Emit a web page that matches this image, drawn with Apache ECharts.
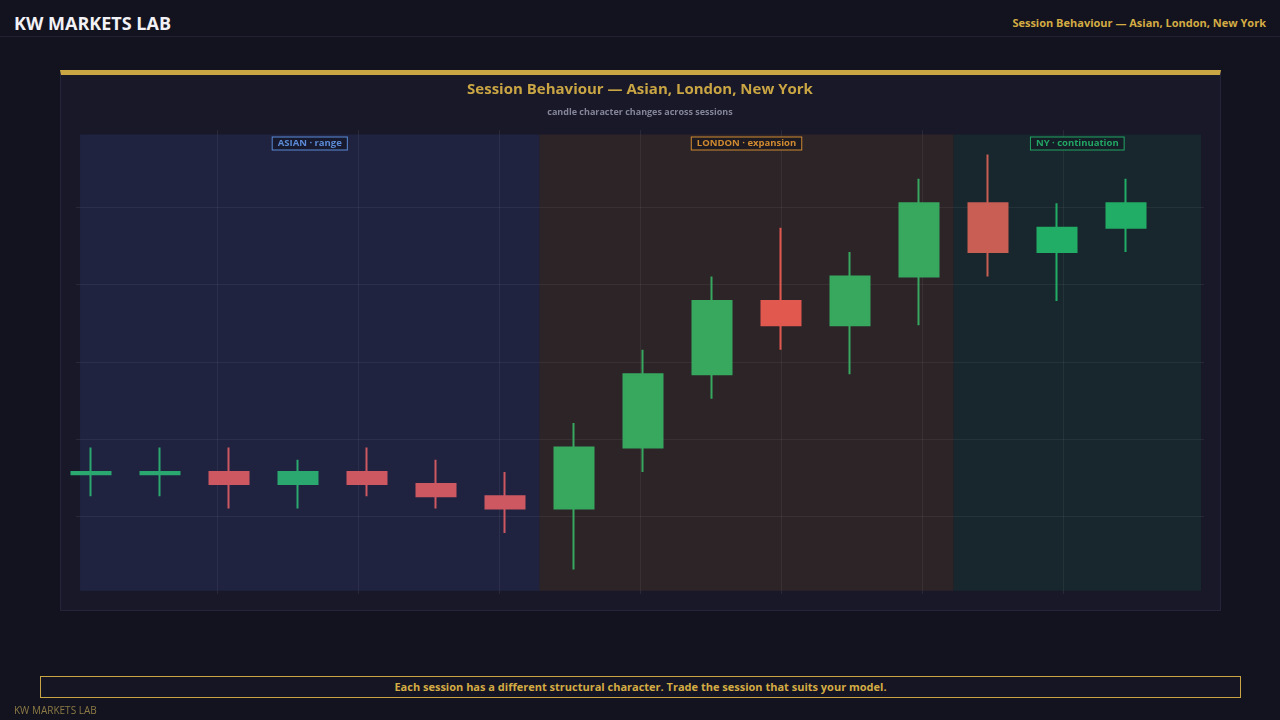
<!DOCTYPE html>
<html>
<head>
<meta charset="utf-8">
<title>Session Behaviour</title>
<script src="https://cdn.jsdelivr.net/npm/echarts@6/dist/echarts.min.js"></script>
<style>
html, body { margin: 0; padding: 0; width: 1280px; height: 720px; overflow: hidden; background: #13131f; font-family: "Open Sans", "Noto Sans", sans-serif; }
#top { position: absolute; left: 0; top: 0; width: 1280px; height: 36px; border-bottom: 1px solid #222236; }
#brand { position: absolute; left: 14px; top: 12px; line-height: 22px; font-size: 18px; font-weight: 700; color: #f2f2f6; }
#topright { position: absolute; right: 14px; top: 12px; line-height: 22px; font-size: 11px; font-weight: 700; color: #d4ac44; }
#panel { position: absolute; left: 60px; top: 70px; width: 1159px; height: 535px; background: #181828; border: 1px solid #23233a; border-top: 5px solid #c9a544; }
#chart { position: absolute; left: 0; top: 0; width: 1280px; height: 720px; }
#note { position: absolute; left: 40px; top: 676px; width: 1199px; height: 20px; line-height: 20px; border: 1px solid #c9a544; background: #151523; color: #d4ac44; font-size: 11px; font-weight: 700; text-align: center; }
#foot { position: absolute; left: 14px; top: 703px; line-height: 14px; font-size: 10px; color: #8c7a45; }
</style>
</head>
<body>
<div id="top">
  <div id="brand">KW MARKETS LAB</div>
  <div id="topright">Session Behaviour — Asian, London, New York</div>
</div>
<div id="panel"></div>
<div id="chart"></div>
<div id="note">Each session has a different structural character. Trade the session that suits your model.</div>
<div id="foot">KW MARKETS LAB</div>
<script>
// candles: [open, close, low, high]
var asianCandles = [
	[2.4, 2.5, 1.5, 3.5],
	[2.4, 2.5, 1.5, 3.5],
	[2.5, 2.0, 1.0, 3.5],
	[2.0, 2.5, 1.0, 3.0],
	[2.5, 2.0, 1.5, 3.5],
	[2.0, 1.5, 1.0, 3.0],
	[1.5, 1.0, 0.0, 2.5]
];
var londonCandles = [
	[1.0, 3.5, -1.5, 4.5],
	[3.5, 6.5, 2.5, 7.5],
	[6.5, 9.5, 5.5, 10.5],
	[9.5, 8.5, 7.5, 12.5],
	[8.5, 10.5, 6.5, 11.5],
	[10.5, 13.5, 8.5, 14.5]
];
var nyCandles = [
	[13.5, 11.5, 10.5, 15.5],
	[11.5, 12.5, 9.5, 13.5],
	[12.5, 13.5, 11.5, 14.5]
];
var sessionLabels = ['ASIAN · range', 'LONDON · expansion', 'NY · continuation'];

var chart = echarts.init(document.getElementById('chart'));

// candle index along the x axis
function withIndex(list, start) {
	var out = [];
	for (var i = 0; i < list.length; i++) {
		out.push([start + i].concat(list[i]));
	}
	return out;
}

function sessionSeries(name, list, start, up, down, shade, labelColor, labelBg, x0, x1) {
	return {
		name: name,
		type: 'candlestick',
		xAxisIndex: 0,
		yAxisIndex: 0,
		barWidth: 39,
		encode: { x: 0, y: [1, 2, 3, 4] },
		data: withIndex(list, start),
		itemStyle: {
			color: up, borderColor: up,
			color0: down, borderColor0: down,
			borderWidth: 2
		},
		markArea: {
			silent: true,
			itemStyle: { color: shade },
			label: {
				show: true,
				position: 'insideTop',
				distance: 3,
				color: labelColor,
				fontSize: 9.5,
				fontWeight: 'bold',
				fontFamily: '"Open Sans", sans-serif',
				backgroundColor: labelBg,
				borderColor: labelColor,
				borderWidth: 1,
				padding: [1, 5, 1, 5]
			},
			data: [[{ name: name, xAxis: x0, yAxis: 16.32 }, { xAxis: x1, yAxis: -2.37 }]]
		}
	};
}

var gridLine = { show: true, showMinLine: false, showMaxLine: false,
	lineStyle: { color: 'rgba(255,255,255,0.07)', width: 1 } };

var option = {
	animation: false,
	backgroundColor: 'transparent',
	title: [
		{ text: 'Session Behaviour — Asian, London, New York', left: 'center', top: 77,
		  textStyle: { color: '#c9a544', fontSize: 15, fontWeight: 'bold', fontFamily: '"Open Sans", sans-serif' } },
		{ text: 'candle character changes across sessions', left: 'center', top: 103,
		  textStyle: { color: '#85859a', fontSize: 9, fontWeight: 'bold', fontFamily: '"Open Sans", sans-serif' } }
	],
	grid: { left: 76, right: 76, top: 130, bottom: 126 },
	xAxis: [
		{ type: 'value', min: -0.2174, max: 16.130, show: false, splitLine: { show: false } },
		{ type: 'value', min: 0, max: 8, interval: 1, axisLine: { show: false }, axisTick: { show: false },
		  axisLabel: { show: false }, splitLine: gridLine }
	],
	yAxis: [
		{ type: 'value', min: -2.5, max: 16.5, show: false, splitLine: { show: false } },
		{ type: 'value', min: 0, max: 6, interval: 1, axisLine: { show: false }, axisTick: { show: false },
		  axisLabel: { show: false }, splitLine: gridLine }
	],
	series: [
		sessionSeries(sessionLabels[0], asianCandles, 0, '#2aa870', '#cd5862',
			'rgba(59,79,160,0.2)', '#5b8ad6', '#171a2e', -0.159, 6.5),
		sessionSeries(sessionLabels[1], londonCandles, asianCandles.length, '#37a85e', '#e0584e',
			'rgba(129,84,40,0.2)', '#d08a30', '#1d1a22', 6.5, 12.5),
		sessionSeries(sessionLabels[2], nyCandles, asianCandles.length + londonCandles.length, '#22ad66', '#c85e54',
			'rgba(19,99,65,0.2)', '#22a565', '#151d26', 12.5, 16.087)
	]
};
chart.setOption(option);
</script>
</body>
</html>
